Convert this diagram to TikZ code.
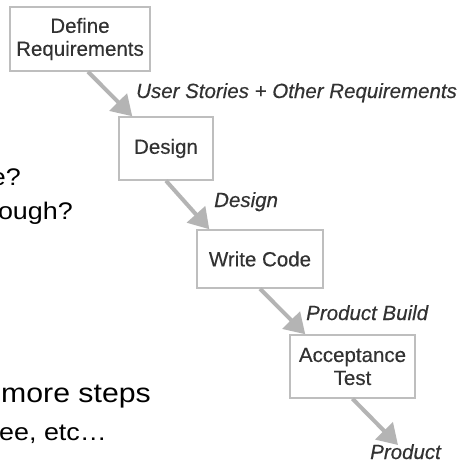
\documentclass[tikz,border=0pt]{standalone}
\usepackage{fontspec}
\setmainfont{Liberation Sans}
\newfontfamily\sidefont[FakeStretch=1.12]{Liberation Sans}
\newfontfamily\boxfont[FakeBold=0.35]{Liberation Sans}
\usetikzlibrary{arrows.meta,calc}
\definecolor{boxline}{RGB}{190,190,190}
\definecolor{flow}{RGB}{180,180,180}
\definecolor{ink}{RGB}{50,50,50}
\tikzset{
  stepbox/.style={draw=boxline, line width=1.5pt, fill=white, align=center,
    inner sep=0pt, text=ink, font=\fontsize{20.5}{23}\boxfont},
  flowarrow/.style={draw=flow, line width=4pt,
    -{Triangle[length=20pt,width=24pt]}},
  flowlabel/.style={anchor=base west, inner sep=0pt, text=ink,
    font=\fontsize{20.5}{23}\boxfont\itshape},
  sidetext/.style={anchor=base east, inner sep=0pt, text=black},
}
\begin{document}
\begin{tikzpicture}[x=1pt,y=-1pt]
  \useasboundingbox[fill=white] (0,0) rectangle (464,464);

  % process boxes
  \node[stepbox, minimum width=140pt, minimum height=64pt] (req) at (80,39) {Define\\Requirements};
  \node[stepbox, minimum width=94pt, minimum height=63pt] (des) at (166,148.5) {Design};
  \node[stepbox, minimum width=126pt, minimum height=58pt] (code) at (260,259) {Write Code};
  \node[stepbox, minimum width=125pt, minimum height=63pt] (acc) at (352.5,366.5) {Acceptance\\Test};
  \coordinate (out) at (398,445);

  % flow arrows between stages
  \draw[flowarrow] ([xshift=8pt]req.south) -- ([xshift=14pt]des.north west);
  \draw[flowarrow] (des.south) -- ([xshift=13pt]code.north west);
  \draw[flowarrow] (code.south) -- ([xshift=16pt]acc.north west);
  \draw[flowarrow] (acc.south) -- (out);

  % artefacts passed along
  \node[flowlabel] (l1) at (136,98) {User Stories + Other Requirements};
  \node[flowlabel] (l2) at (214,207) {Design};
  \node[flowlabel] (l3) at (306,320) {Product Build};
  \node[flowlabel] (l4) at (370,459) {Product};

  % side text, running off the left edge
  \node[sidetext, font=\fontsize{24}{28}\sidefont] (s1) at (21,185) {e?};
  \node[sidetext, font=\fontsize{24}{28}\sidefont] (s2) at (73,219) {ough?};
  \node[sidetext, font=\fontsize{27}{30}\sidefont] (s3) at (151,402) {more steps};
  \node[sidetext, font=\fontsize{24}{28}\sidefont] (s4) at (107,440) {ee, etc…};
\end{tikzpicture}
\end{document}
